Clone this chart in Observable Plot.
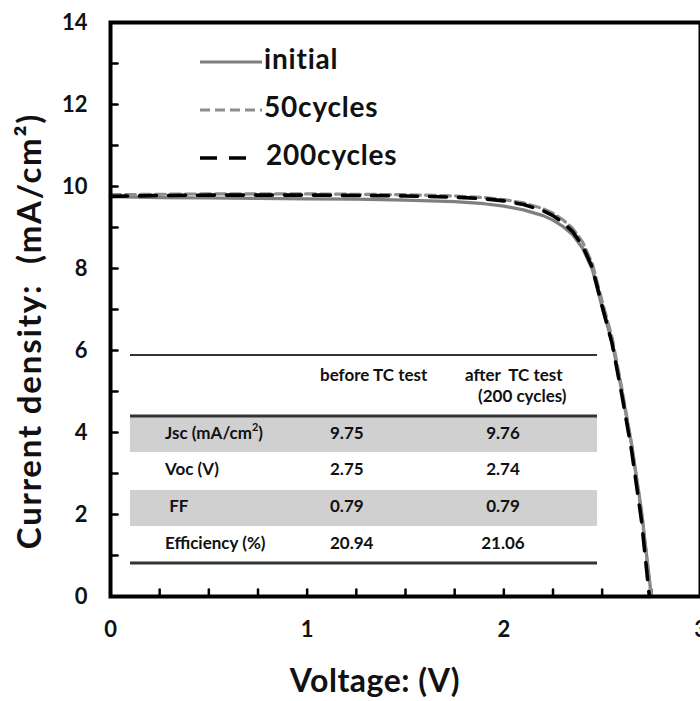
<!DOCTYPE html>
<html>
<head>
<meta charset="utf-8">
<script src="https://cdn.jsdelivr.net/npm/d3@7"></script>
<script src="https://cdn.jsdelivr.net/npm/@observablehq/plot@0.6"></script>
<style>
  body { margin: 0; background: #fff; }
  #chart { position: relative; width: 700px; height: 701px; overflow: hidden; }
</style>
</head>
<body>
<div id="chart"></div>
<script>
// J–V curves of the cell before and after thermal cycling
const voltageInitial = [0, 0.25, 0.5, 0.75, 1.0, 1.25, 1.5, 1.75, 1.9, 2.0, 2.1, 2.2, 2.25, 2.3, 2.35, 2.4, 2.45, 2.5, 2.55, 2.6, 2.65, 2.7, 2.75];
const currentInitial = [9.75, 9.73, 9.72, 9.71, 9.70, 9.69, 9.67, 9.63, 9.58, 9.52, 9.43, 9.29, 9.18, 9.03, 8.82, 8.50, 7.98, 7.05, 6.22, 5.00, 3.70, 2.10, 0];

const voltage50 = [0, 0.25, 0.5, 0.75, 1.0, 1.25, 1.5, 1.75, 1.9, 2.0, 2.1, 2.2, 2.25, 2.3, 2.35, 2.4, 2.45, 2.5, 2.55, 2.6, 2.65, 2.7, 2.75];
const current50 = [9.80, 9.81, 9.82, 9.82, 9.82, 9.81, 9.80, 9.77, 9.73, 9.68, 9.60, 9.46, 9.35, 9.19, 8.98, 8.65, 8.12, 7.20, 6.32, 5.08, 3.70, 2.02, 0];

const voltage200 = [0, 0.25, 0.5, 0.75, 1.0, 1.25, 1.5, 1.75, 1.9, 2.0, 2.1, 2.2, 2.25, 2.3, 2.35, 2.4, 2.45, 2.5, 2.55, 2.6, 2.65, 2.7, 2.74];
const current200 = [9.76, 9.78, 9.79, 9.79, 9.79, 9.78, 9.77, 9.74, 9.70, 9.65, 9.56, 9.41, 9.29, 9.12, 8.90, 8.56, 8.02, 7.08, 6.18, 4.92, 3.55, 1.85, 0];

const seriesNames = ["initial", "50cycles", "200cycles"];

// Photovoltaic parameters
const tableHeaders = ["before TC test", "after  TC test", "(200 cycles)"];
const tableRowLabels = ["Jsc (mA/cm\u00B2)", "Voc (V)", " FF", "Efficiency (%)"];
const beforeTC = [9.75, 2.75, 0.79, 20.94];
const afterTC = [9.76, 2.74, 0.79, 21.06];

// Axes
const xTickLabels = [0, 1, 2, 3];
const yTickLabels = [0, 2, 4, 6, 8, 10, 12, 14];
const xMinorTicks = d3.range(0.25, 3, 0.25);
const yMinorTicks = d3.range(1, 14, 1);

const seriesStyle = {
  "initial":   {stroke: "#7f7f7f", strokeWidth: 3.2, dash: null},
  "50cycles":  {stroke: "#8e8e8e", strokeWidth: 3.2, dash: "10,5"},
  "200cycles": {stroke: "#000000", strokeWidth: 3.6, dash: "17,12"}
};

const rows = (vs, js, name) => vs.map((v, i) => ({v, j: js[i], series: name}));
const curves = {
  "initial": rows(voltageInitial, currentInitial, "initial"),
  "50cycles": rows(voltage50, current50, "50cycles"),
  "200cycles": rows(voltage200, current200, "200cycles")
};

// short inward tick drawn by Plot.vector
const tickShape = {draw(context, l) { context.moveTo(0, 0); context.lineTo(0, -l); }};

const FONT = "Lato, 'Open Sans', sans-serif";
const W = 700, H = 701;
const margin = {left: 110, right: 0, top: 22, bottom: 105};

const plot = Plot.plot({
  width: W,
  height: H,
  marginLeft: margin.left,
  marginRight: margin.right,
  marginTop: margin.top,
  marginBottom: margin.bottom,
  style: {fontFamily: FONT, background: "white", color: "#111", overflow: "visible"},
  x: {domain: [0, 3]},
  y: {domain: [0, 14]},
  marks: [
    Plot.axisX(xTickLabels, {tickSize: 0, tickPadding: 25, fontSize: 22, fontWeight: 700, label: null, tickFormat: d3.format("d")}),
    Plot.axisY(yTickLabels, {tickSize: 0, tickPadding: 23, fontSize: 22, fontWeight: 700, label: null, tickFormat: d3.format("d")}),
    Plot.vector(xMinorTicks, {x: d => d, y: 0, length: 7, rotate: 0, anchor: "start", shape: tickShape, stroke: "#000", strokeWidth: 2.5, fill: "none"}),
    Plot.vector(yMinorTicks, {x: 0, y: d => d, length: 7, rotate: 90, anchor: "start", shape: tickShape, stroke: "#000", strokeWidth: 2.5, fill: "none"}),
    ...seriesNames.map(name => Plot.line(curves[name], {
      x: "v", y: "j",
      stroke: seriesStyle[name].stroke,
      strokeWidth: seriesStyle[name].strokeWidth,
      strokeDasharray: seriesStyle[name].dash
    })),
    Plot.frame({stroke: "#000", strokeWidth: 4})
  ]
});

const svg = d3.select(plot);

// Axis titles
svg.append("text")
  .attr("transform", `translate(33,331) rotate(-90)`)
  .attr("text-anchor", "middle").attr("dominant-baseline", "middle")
  .attr("font-family", FONT).attr("font-weight", 700).attr("font-size", 33)
  .attr("letter-spacing", 1.8)
  .attr("xml:space", "preserve").style("white-space", "pre")
  .attr("fill", "#111")
  .text("Current density:  (mA/cm\u00B2)");

svg.append("text")
  .attr("x", 375).attr("y", 684)
  .attr("text-anchor", "middle").attr("dominant-baseline", "middle")
  .attr("font-family", FONT).attr("font-weight", 700).attr("font-size", 32)
  .attr("letter-spacing", 0.5)
  .attr("fill", "#111")
  .text("Voltage: (V)");

// Legend
const legend = svg.append("g").attr("font-family", FONT).attr("text-anchor", "start");
seriesNames.forEach((name, i) => {
  const s = seriesStyle[name];
  const cy = 62 + i * 48;
  const len = name === "200cycles" ? 48 : 62;
  legend.append("line")
    .attr("x1", 200).attr("x2", 200 + len).attr("y1", cy).attr("y2", cy)
    .attr("stroke", s.stroke).attr("stroke-width", s.strokeWidth)
    .attr("stroke-dasharray", s.dash);
  legend.append("text")
    .attr("x", name === "200cycles" ? 266 : 264).attr("y", cy).attr("dominant-baseline", "middle")
    .attr("font-weight", 700).attr("font-size", 28).attr("letter-spacing", 0.8).attr("fill", "#111")
    .text(name);
});

// Parameter table
const table = svg.append("g").attr("font-family", FONT).attr("font-size", 17)
  .attr("font-weight", 700).attr("fill", "#111").attr("text-anchor", "start");
const tLeft = 130, tRight = 597;
const rowTops = [417, 452, 490, 526, 563];
[0, 2].forEach(r => {
  table.append("rect")
    .attr("x", tLeft).attr("width", tRight - tLeft)
    .attr("y", rowTops[r]).attr("height", rowTops[r + 1] - rowTops[r])
    .attr("fill", "#d0d0d0");
});
[[355, 2], [416, 3], [563, 3]].forEach(([ly, w]) => {
  table.append("line").attr("x1", tLeft).attr("x2", tRight).attr("y1", ly).attr("y2", ly)
    .attr("stroke", "#333").attr("stroke-width", w);
});
table.append("text").attr("x", 320).attr("y", 377).attr("dominant-baseline", "middle").text(tableHeaders[0]);
table.append("text").attr("x", 465).attr("y", 377).attr("dominant-baseline", "middle")
  .attr("xml:space", "preserve").style("white-space", "pre").text(tableHeaders[1]);
table.append("text").attr("x", 478).attr("y", 398).attr("dominant-baseline", "middle").text(tableHeaders[2]);
tableRowLabels.forEach((label, r) => {
  const cy = (rowTops[r] + rowTops[r + 1]) / 2;
  const lt = table.append("text").attr("x", 165).attr("y", cy).attr("dominant-baseline", "middle")
    .attr("xml:space", "preserve").style("white-space", "pre");
  if (label.includes("\u00B2")) {
    const [a, b] = label.split("\u00B2");
    lt.append("tspan").text(a);
    lt.append("tspan").attr("font-size", 11).attr("dy", -7).text("2");
    lt.append("tspan").attr("dy", 7).text(b);
  } else {
    lt.text(label);
  }
  table.append("text").attr("x", 330).attr("y", cy).attr("dominant-baseline", "middle").text(beforeTC[r].toFixed(2));
  table.append("text").attr("x", 503).attr("y", cy).attr("text-anchor", "middle").attr("dominant-baseline", "middle").text(afterTC[r].toFixed(2));
});

document.getElementById("chart").append(plot);
</script>
</body>
</html>
